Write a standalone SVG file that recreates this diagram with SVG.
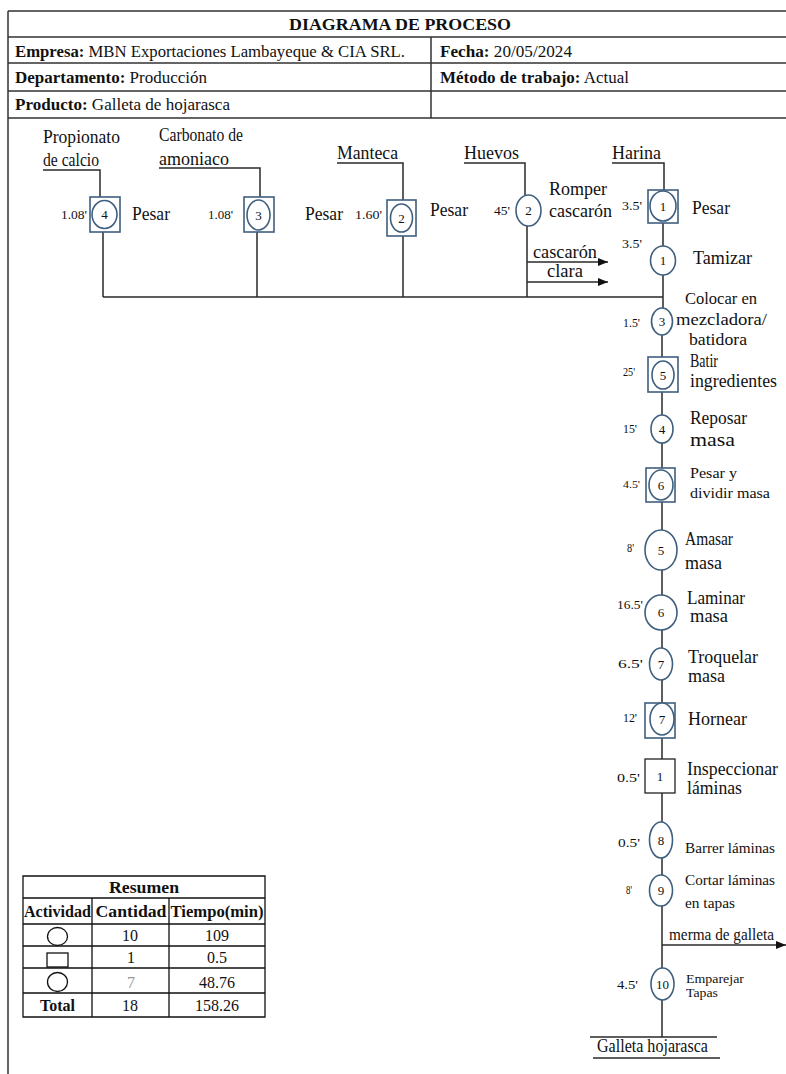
<svg xmlns="http://www.w3.org/2000/svg" width="786" height="1074" viewBox="0 0 786 1074" font-family="'Liberation Serif', 'Times New Roman', serif">
<style>
text{font-family:"Liberation Serif","Times New Roman",serif;fill:#111}
.h{font-size:17px}
.b{font-weight:bold}
.lb{font-size:18px}
.tm{font-size:13px}
.num{font-size:13px;text-anchor:middle}
.sm{font-size:13px}
.tb{font-size:16px;text-anchor:middle}
.ln{stroke:#2a2a2a;stroke-width:1.5;fill:none}
.frm{stroke:#333;stroke-width:1.5;fill:none}
.sh{stroke:#3f5f7f;stroke-width:1.6;fill:#fff}
.shb{stroke:#222;stroke-width:1.3;fill:#fff}
.ts{stroke:#111;stroke-width:1.3;fill:none}
</style>
<defs>
<marker id="ah" viewBox="0 0 10 8" refX="10" refY="4" markerWidth="10" markerHeight="8" markerUnits="userSpaceOnUse" orient="auto">
<path d="M0,0 L10,4 L0,8 z" fill="#111"/>
</marker>
</defs>
<rect width="786" height="1074" fill="#fff"/>

<g id="header">
<path class="frm" d="M8,11 V1074 M8,11 H786 M8,37 H786 M8,63 H786 M8,91 H786 M8,118 H786 M431,37 V118"/>
<text class="h b" x="400" y="30" text-anchor="middle" textLength="222" lengthAdjust="spacingAndGlyphs">DIAGRAMA DE PROCESO</text>
<text class="h" x="15" y="57" textLength="390" lengthAdjust="spacingAndGlyphs"><tspan class="b">Empresa:</tspan> MBN Exportaciones Lambayeque &amp; CIA SRL.</text>
<text class="h" x="440" y="57" textLength="132" lengthAdjust="spacingAndGlyphs"><tspan class="b">Fecha:</tspan> 20/05/2024</text>
<text class="h" x="15" y="83" textLength="192" lengthAdjust="spacingAndGlyphs"><tspan class="b">Departamento:</tspan> Producción</text>
<text class="h" x="440" y="83" textLength="189" lengthAdjust="spacingAndGlyphs"><tspan class="b">Método de trabajo:</tspan> Actual</text>
<text class="h" x="15" y="110" textLength="215" lengthAdjust="spacingAndGlyphs"><tspan class="b">Producto:</tspan> Galleta de hojarasca</text>
</g>

<g id="connectors">
<path class="ln" d="M43,170 H100 V197 M103,232 V297 M159,168 H260 V197 M257,232 V297 M337,163 H403 V200 M403,236 V297 M464,163 H525 V195 M527,226 V297 M612,163 H664 V190 M663,223 V246 M663,275 V308 M103,297 H663"/>
<path class="ln" d="M662,335 V357 M662,392 V415 M662,443 V468 M662,502 V530 M662,570 V595 M662,630 V648 M662,680 V703 M662,738 V759 M662,793 V822 M662,858 V875 M662,906 V968 M662,1000 V1037"/>
<path class="ln" d="M527,262 H608" marker-end="url(#ah)"/>
<path class="ln" d="M527,282 H608" marker-end="url(#ah)"/>
<path class="ln" d="M662,945 H786" marker-end="url(#ah)"/>
<path class="ln" d="M590,1037 H717 M593,1058 H720"/>
</g>

<g id="n-propionato">
<text class="lb" x="43" y="143" textLength="77" lengthAdjust="spacingAndGlyphs">Propionato</text>
<text class="lb" x="43" y="166" textLength="56" lengthAdjust="spacingAndGlyphs">de calcio</text>
<rect class="sh" x="90" y="197" width="30" height="35"/>
<ellipse class="sh" cx="104.5" cy="214.5" rx="12.5" ry="14"/>
<text class="num" x="104.5" y="219">4</text>
<text class="tm" x="61" y="219" textLength="26" lengthAdjust="spacingAndGlyphs">1.08'</text>
<text class="lb" x="132" y="220" textLength="38" lengthAdjust="spacingAndGlyphs">Pesar</text>
</g>

<g id="n-carbonato">
<text class="lb" x="159" y="141" textLength="84" lengthAdjust="spacingAndGlyphs">Carbonato de</text>
<text class="lb" x="159" y="165" textLength="70" lengthAdjust="spacingAndGlyphs">amoniaco</text>
<rect class="sh" x="244" y="197" width="30" height="35"/>
<ellipse class="sh" cx="258.5" cy="215" rx="11.5" ry="15"/>
<text class="num" x="258.5" y="219.5">3</text>
<text class="tm" x="208" y="219" textLength="25" lengthAdjust="spacingAndGlyphs">1.08'</text>
<text class="lb" x="305" y="220" textLength="38" lengthAdjust="spacingAndGlyphs">Pesar</text>
</g>

<g id="n-manteca">
<text class="lb" x="337" y="159" textLength="61" lengthAdjust="spacingAndGlyphs">Manteca</text>
<rect class="sh" x="387" y="200" width="29" height="36"/>
<ellipse class="sh" cx="401.5" cy="218" rx="11" ry="14"/>
<text class="num" x="401.5" y="222.5">2</text>
<text class="tm" x="355" y="219" textLength="27" lengthAdjust="spacingAndGlyphs">1.60'</text>
<text class="lb" x="430" y="216" textLength="38" lengthAdjust="spacingAndGlyphs">Pesar</text>
</g>

<g id="n-huevos">
<text class="lb" x="464" y="159" textLength="55" lengthAdjust="spacingAndGlyphs">Huevos</text>
<ellipse class="sh" cx="528.5" cy="210.5" rx="12.5" ry="15.5"/>
<text class="num" x="528.5" y="215">2</text>
<text class="tm" x="494" y="215" textLength="16" lengthAdjust="spacingAndGlyphs">45'</text>
<text class="lb" x="549" y="195" textLength="58" lengthAdjust="spacingAndGlyphs">Romper</text>
<text class="lb" x="549" y="217" textLength="63" lengthAdjust="spacingAndGlyphs">cascarón</text>
<text class="lb" x="533" y="258" textLength="64" lengthAdjust="spacingAndGlyphs">cascarón</text>
<text class="lb" x="547" y="277" textLength="36" lengthAdjust="spacingAndGlyphs">clara</text>
</g>

<g id="n-harina">
<text class="lb" x="612" y="159" textLength="49" lengthAdjust="spacingAndGlyphs">Harina</text>
<rect class="sh" x="648" y="190" width="30" height="33"/>
<ellipse class="sh" cx="663" cy="206" rx="13" ry="15"/>
<text class="num" x="663" y="210.5">1</text>
<text class="tm" x="622" y="210" textLength="20" lengthAdjust="spacingAndGlyphs">3.5'</text>
<text class="lb" x="692" y="214" textLength="38" lengthAdjust="spacingAndGlyphs">Pesar</text>
</g>

<g id="n-tamizar">
<ellipse class="sh" cx="663" cy="260.5" rx="12.5" ry="14.5"/>
<text class="num" x="663" y="265">1</text>
<text class="tm" x="622" y="248" textLength="20" lengthAdjust="spacingAndGlyphs">3.5'</text>
<text class="lb" x="693" y="264" textLength="59" lengthAdjust="spacingAndGlyphs">Tamizar</text>
</g>

<g id="n-colocar">
<ellipse class="sh" cx="662" cy="321.5" rx="10.5" ry="13.5"/>
<text class="num" x="662" y="326">3</text>
<text class="tm" x="623" y="327" textLength="17" lengthAdjust="spacingAndGlyphs">1.5'</text>
<text class="lb" x="685" y="304" textLength="72" lengthAdjust="spacingAndGlyphs" style="font-size:17px">Colocar en</text>
<text class="lb" x="676" y="325" textLength="91" lengthAdjust="spacingAndGlyphs" style="font-size:17px">mezcladora/</text>
<text class="lb" x="689" y="345" textLength="58" lengthAdjust="spacingAndGlyphs" style="font-size:17px">batidora</text>
</g>

<g id="n-batir">
<rect class="sh" x="648" y="357" width="30" height="35"/>
<ellipse class="sh" cx="663" cy="375" rx="11" ry="14"/>
<text class="num" x="663" y="379.5">5</text>
<text class="tm" x="623" y="376" textLength="12" lengthAdjust="spacingAndGlyphs">25'</text>
<text class="lb" x="690" y="367" textLength="28" lengthAdjust="spacingAndGlyphs">Batir</text>
<text class="lb" x="690" y="387" textLength="87" lengthAdjust="spacingAndGlyphs">ingredientes</text>
</g>

<g id="n-reposar">
<ellipse class="sh" cx="662" cy="429" rx="11" ry="14"/>
<text class="num" x="662" y="433.5">4</text>
<text class="tm" x="623" y="433" textLength="14" lengthAdjust="spacingAndGlyphs">15'</text>
<text class="lb" x="690" y="424" textLength="57" lengthAdjust="spacingAndGlyphs">Reposar</text>
<text class="lb" x="690" y="446" textLength="45" lengthAdjust="spacingAndGlyphs">masa</text>
</g>

<g id="n-pesar-dividir">
<rect class="sh" x="646" y="468" width="29" height="34"/>
<ellipse class="sh" cx="661" cy="485" rx="12" ry="15"/>
<text class="num" x="661" y="489.5">6</text>
<text class="tm" x="623" y="488" textLength="17" lengthAdjust="spacingAndGlyphs" style="font-size:11px">4.5'</text>
<text class="lb" x="690" y="478" textLength="47" lengthAdjust="spacingAndGlyphs" style="font-size:15px">Pesar y</text>
<text class="lb" x="690" y="498" textLength="80" lengthAdjust="spacingAndGlyphs" style="font-size:15px">dividir masa</text>
</g>

<g id="n-amasar">
<ellipse class="sh" cx="661" cy="550" rx="16" ry="20"/>
<text class="num" x="661" y="554.5">5</text>
<text class="tm" x="627" y="552" textLength="7" lengthAdjust="spacingAndGlyphs">8'</text>
<text class="lb" x="685" y="545" textLength="48" lengthAdjust="spacingAndGlyphs">Amasar</text>
<text class="lb" x="685" y="569" textLength="37" lengthAdjust="spacingAndGlyphs">masa</text>
</g>

<g id="n-laminar">
<ellipse class="sh" cx="661" cy="612.5" rx="16" ry="17.5"/>
<text class="num" x="661" y="617">6</text>
<text class="tm" x="617" y="609" textLength="26" lengthAdjust="spacingAndGlyphs">16.5'</text>
<text class="lb" x="687" y="604" textLength="58" lengthAdjust="spacingAndGlyphs">Laminar</text>
<text class="lb" x="690" y="622" textLength="38" lengthAdjust="spacingAndGlyphs">masa</text>
</g>

<g id="n-troquelar">
<ellipse class="sh" cx="661" cy="664" rx="11.5" ry="16"/>
<text class="num" x="661" y="668.5">7</text>
<text class="tm" x="618" y="668" textLength="25" lengthAdjust="spacingAndGlyphs">6.5'</text>
<text class="lb" x="688" y="663" textLength="70" lengthAdjust="spacingAndGlyphs">Troquelar</text>
<text class="lb" x="688" y="682" textLength="37" lengthAdjust="spacingAndGlyphs">masa</text>
</g>

<g id="n-hornear">
<rect class="sh" x="645" y="703" width="30" height="35"/>
<ellipse class="sh" cx="662" cy="719" rx="12" ry="16"/>
<text class="num" x="662" y="723.5">7</text>
<text class="tm" x="623" y="722" textLength="14" lengthAdjust="spacingAndGlyphs">12'</text>
<text class="lb" x="688" y="725" textLength="59" lengthAdjust="spacingAndGlyphs">Hornear</text>
</g>

<g id="n-inspeccionar">
<rect class="shb" x="645" y="759" width="30" height="34"/>
<text class="num" x="660" y="781">1</text>
<text class="tm" x="617" y="782" textLength="23" lengthAdjust="spacingAndGlyphs">0.5'</text>
<text class="lb" x="687" y="775" textLength="91" lengthAdjust="spacingAndGlyphs">Inspeccionar</text>
<text class="lb" x="687" y="794" textLength="55" lengthAdjust="spacingAndGlyphs">láminas</text>
</g>

<g id="n-barrer">
<ellipse class="sh" cx="661" cy="840" rx="11.5" ry="18"/>
<text class="num" x="661" y="844.5">8</text>
<text class="tm" x="618" y="847" textLength="22" lengthAdjust="spacingAndGlyphs">0.5'</text>
<text class="lb" x="685" y="853" textLength="90" lengthAdjust="spacingAndGlyphs" style="font-size:15px">Barrer láminas</text>
</g>

<g id="n-cortar">
<ellipse class="sh" cx="661" cy="890.5" rx="11.5" ry="15.5"/>
<text class="num" x="661" y="895">9</text>
<text class="tm" x="626" y="894" textLength="6" lengthAdjust="spacingAndGlyphs">8'</text>
<text class="lb" x="685" y="885" textLength="90" lengthAdjust="spacingAndGlyphs" style="font-size:15px">Cortar láminas</text>
<text class="lb" x="685" y="908" textLength="50" lengthAdjust="spacingAndGlyphs" style="font-size:15px">en tapas</text>
</g>

<g id="n-merma">
<text class="lb" x="669" y="940" textLength="105" lengthAdjust="spacingAndGlyphs" style="font-size:17px">merma de galleta</text>
</g>

<g id="n-emparejar">
<ellipse class="sh" cx="662.5" cy="984" rx="11.5" ry="16"/>
<text class="num" x="662.5" y="988.5">10</text>
<text class="tm" x="617" y="989" textLength="21" lengthAdjust="spacingAndGlyphs">4.5'</text>
<text class="sm" x="686" y="983" textLength="58" lengthAdjust="spacingAndGlyphs">Emparejar</text>
<text class="sm" x="686" y="997" textLength="32" lengthAdjust="spacingAndGlyphs">Tapas</text>
</g>

<g id="n-galleta">
<text class="lb" x="597" y="1052" textLength="111" lengthAdjust="spacingAndGlyphs">Galleta hojarasca</text>
</g>

<g id="resumen">
<path class="ts" d="M23,876 H265 V1017 H23 Z M23,898 H265 M23,924 H265 M23,946 H265 M23,968 H265 M23,993 H265 M92,898 V1017 M169,898 V1017"/>
<text class="tb b" x="144" y="893" textLength="70" lengthAdjust="spacingAndGlyphs">Resumen</text>
<text class="tb b" x="57.5" y="917" textLength="67" lengthAdjust="spacingAndGlyphs">Actividad</text>
<text class="tb b" x="131" y="917" textLength="71" lengthAdjust="spacingAndGlyphs">Cantidad</text>
<text class="tb b" x="217" y="917" textLength="93" lengthAdjust="spacingAndGlyphs">Tiempo(min)</text>
<ellipse class="ts" cx="57.5" cy="936.5" rx="10" ry="9"/>
<text class="tb" x="130" y="941">10</text>
<text class="tb" x="217" y="941">109</text>
<rect class="ts" x="47" y="953" width="21" height="14"/>
<text class="tb" x="131" y="963">1</text>
<text class="tb" x="217" y="963">0.5</text>
<ellipse class="ts" cx="57.5" cy="982" rx="10" ry="9.5"/>
<text class="tb" x="131" y="988" style="fill:#999">7</text>
<text class="tb" x="217" y="988">48.76</text>
<text class="tb b" x="57.5" y="1011">Total</text>
<text class="tb" x="130" y="1011">18</text>
<text class="tb" x="217" y="1011">158.26</text>
</g>
</svg>
